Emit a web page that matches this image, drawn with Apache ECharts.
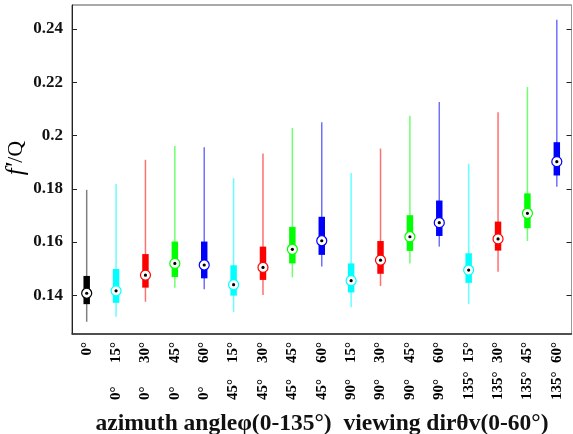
<!DOCTYPE html>
<html>
<head>
<meta charset="utf-8">
<script src="https://cdn.jsdelivr.net/npm/echarts@6/dist/echarts.min.js"></script>
<style>
  html, body { margin: 0; padding: 0; background: #fff; }
  #main { width: 573px; height: 434px; }
</style>
</head>
<body>
<div id="main"></div>
<script>
// viewing direction θv (top label row) and azimuth φ (bottom label row)
var thetaLabels = ['0°', '15°', '30°', '45°', '60°', '15°', '30°', '45°', '60°',
                   '15°', '30°', '45°', '60°', '15°', '30°', '45°', '60°'];
var phiLabels = ['', '0°', '0°', '0°', '0°', '45°', '45°', '45°', '45°',
                 '90°', '90°', '90°', '90°', '135°', '135°', '135°', '135°'];

// box statistics
var whiskerLow  = [0.1301, 0.1320, 0.1376, 0.1429, 0.1423, 0.1338, 0.1401, 0.1468, 0.1508,
                   0.1355, 0.1435, 0.1520, 0.1583, 0.1367, 0.1489, 0.1604, 0.1808];
var q1          = [0.1367, 0.1372, 0.1429, 0.1469, 0.1464, 0.1399, 0.1458, 0.1520, 0.1552,
                   0.1411, 0.1481, 0.1567, 0.1623, 0.1447, 0.1568, 0.1652, 0.1850];
var median      = [0.1408, 0.1417, 0.1476, 0.1520, 0.1514, 0.1440, 0.1505, 0.1573, 0.1605,
                   0.1455, 0.1532, 0.1620, 0.1673, 0.1495, 0.1612, 0.1708, 0.1902];
var q3          = [0.1473, 0.1499, 0.1555, 0.1602, 0.1602, 0.1513, 0.1583, 0.1657, 0.1695,
                   0.1520, 0.1604, 0.1701, 0.1756, 0.1558, 0.1677, 0.1783, 0.1975];
var whiskerHigh = [0.1796, 0.1818, 0.1909, 0.1961, 0.1956, 0.1840, 0.1933, 0.2028, 0.2050,
                   0.1859, 0.1951, 0.2074, 0.2126, 0.1894, 0.2087, 0.2182, 0.2435];

var yTicks = [0.14, 0.16, 0.18, 0.2, 0.22, 0.24];

var boxColors = ['#00ffff', '#ff0000', '#00ff00', '#0000ff'];
var lineColors = ['#66ffff', '#ff7070', '#70ff70', '#7070ff'];

var data = [];
for (var i = 0; i < median.length; i++) {
    data.push([i, whiskerLow[i], q1[i], median[i], q3[i], whiskerHigh[i]]);
}

var serif = 'Liberation Serif';
var myChart = echarts.init(document.getElementById('main'));

function renderBox(params, api) {
    var idx = api.value(0);
    var c = idx === 0 ? '#000000' : boxColors[(idx - 1) % 4];
    var lc = idx === 0 ? '#808080' : lineColors[(idx - 1) % 4];
    var pLow = api.coord([idx, api.value(1)]);
    var pQ1 = api.coord([idx, api.value(2)]);
    var pMed = api.coord([idx, api.value(3)]);
    var pQ3 = api.coord([idx, api.value(4)]);
    var pHigh = api.coord([idx, api.value(5)]);
    var w = api.size([1, 0])[0] * 0.22;
    return {
        type: 'group',
        children: [
            { type: 'line', shape: { x1: pLow[0], y1: pLow[1], x2: pHigh[0], y2: pHigh[1] },
              style: { stroke: lc, lineWidth: 1.5 } },
            { type: 'rect', shape: { x: pQ1[0] - w / 2, y: pQ3[1], width: w, height: pQ1[1] - pQ3[1] },
              style: { fill: c } },
            { type: 'circle', shape: { cx: pMed[0], cy: pMed[1], r: 5 },
              style: { fill: '#ffffff', stroke: c, lineWidth: 1.2 } },
            { type: 'circle', shape: { cx: pMed[0], cy: pMed[1], r: 1.6 },
              style: { fill: '#000000' } }
        ]
    };
}

var option = {
    animation: false,
    grid: {
        left: 72, right: 1.5, top: 5, bottom: 100,
        show: true, borderColor: '#555', borderWidth: 1
    },
    xAxis: [
        {
            type: 'category',
            data: thetaLabels,
            position: 'bottom',
            axisLine: { lineStyle: { color: '#333', width: 1.5 } },
            axisTick: { show: false },
            axisLabel: {
                interval: 0, rotate: 90, margin: 8,
                fontFamily: serif, fontWeight: 'bold', fontSize: 15, color: '#000'
            }
        },
        {
            type: 'category',
            data: phiLabels,
            position: 'bottom',
            axisLine: { show: false },
            axisTick: { show: false },
            axisLabel: {
                interval: 0, rotate: 90, margin: 66, align: 'left',
                fontFamily: serif, fontWeight: 'bold', fontSize: 15, color: '#000'
            }
        }
    ],
    yAxis: [
        {
            type: 'value',
            min: 0.1255, max: 0.249,
            position: 'left',
            splitLine: { show: false },
            axisLine: { show: true, lineStyle: { color: '#222', width: 1 } },
            axisTick: { show: true, inside: true, length: 5, customValues: yTicks,
                        lineStyle: { color: '#222' } },
            axisLabel: {
                customValues: yTicks, margin: 9,
                fontFamily: serif, fontWeight: 'bold', fontSize: 17, color: '#111'
            }
        },
        {
            type: 'value',
            min: 0.1255, max: 0.249,
            position: 'right',
            splitLine: { show: false },
            axisLine: { show: true, lineStyle: { color: '#999', width: 1 } },
            axisTick: { show: true, inside: true, length: 5, customValues: yTicks,
                        lineStyle: { color: '#222' } },
            axisLabel: { show: false }
        }
    ],
    graphic: [
        {
            type: 'text', x: 16, y: 158, rotation: Math.PI / 2,
            style: {
                text: '{i|f′}/Q',
                rich: {
                    i: { fontFamily: serif, fontStyle: 'italic', fontSize: 25, fill: '#000' }
                },
                fontFamily: serif, fontSize: 22, fill: '#000',
                align: 'center', verticalAlign: 'middle'
            }
        },
        {
            type: 'text', x: 322, y: 424,
            style: {
                text: 'azimuth angleφ(0-135°)  viewing dirθv(0-60°)',
                fontFamily: serif, fontWeight: 'bold', fontSize: 23.5, fill: '#111',
                align: 'center', verticalAlign: 'middle'
            }
        }
    ],
    series: [
        {
            type: 'custom',
            xAxisIndex: 0,
            yAxisIndex: 0,
            renderItem: renderBox,
            encode: { x: 0, y: [1, 2, 3, 4, 5] },
            data: data
        }
    ]
};

myChart.setOption(option);
</script>
</body>
</html>
